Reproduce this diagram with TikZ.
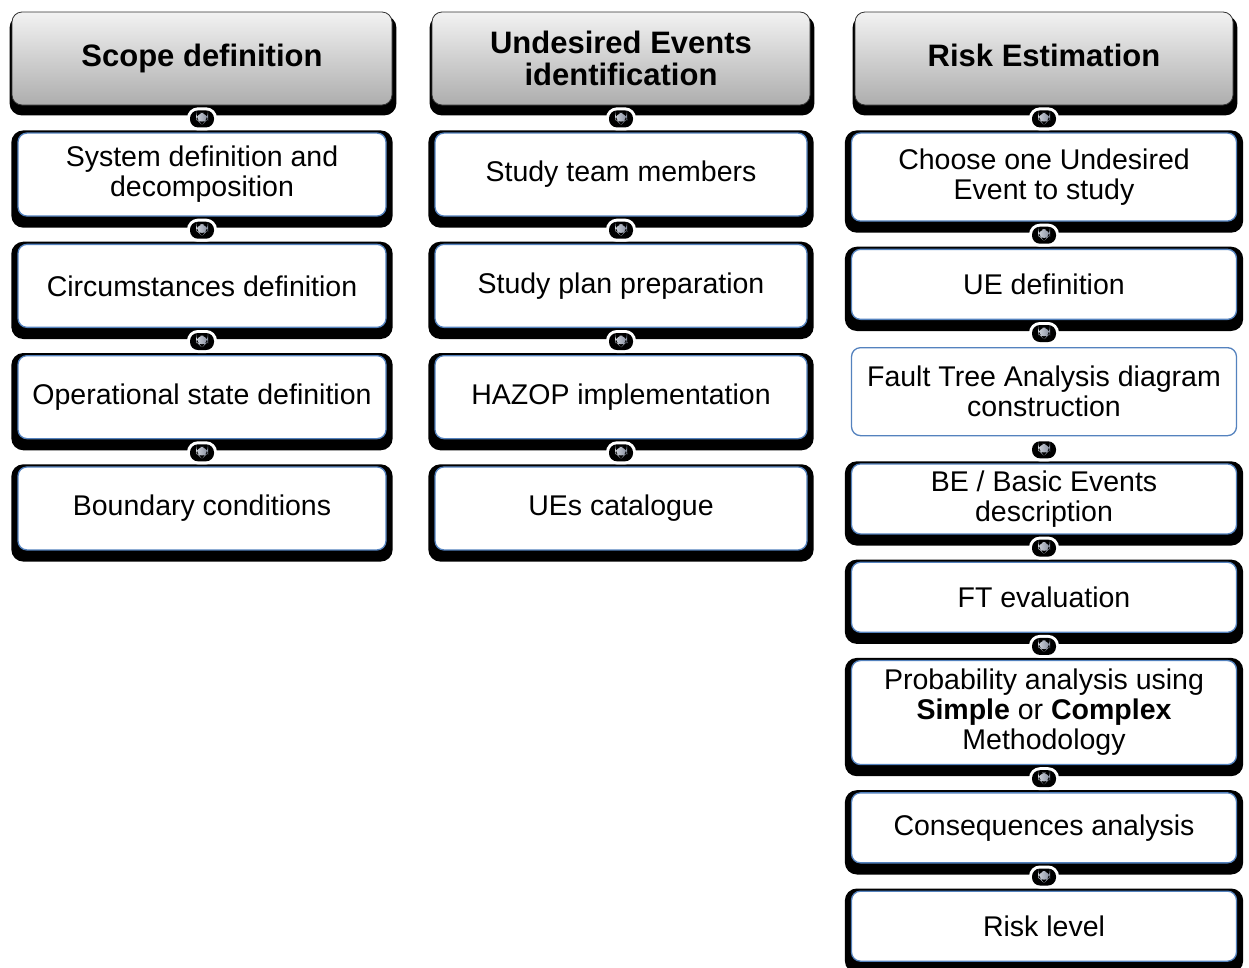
\documentclass[tikz,border=0pt]{standalone}
\usepackage{fontspec}
\setmainfont{Liberation Sans}
\usetikzlibrary{positioning}
\usetikzlibrary{backgrounds}

\definecolor{boxblue}{RGB}{84,130,190}
\definecolor{iconblue}{RGB}{140,155,185}

\tikzset{
  headbox/.style={draw=black!80, line width=0.8pt, rounded corners=10pt,
    top color=white!95!black, bottom color=black!32, minimum width=380pt,
    minimum height=93pt, align=center, inner sep=0pt,
    font=\fontsize{31}{32}\selectfont\bfseries},
  stepbox/.style={draw=boxblue, line width=1.3pt, rounded corners=9pt,
    fill=white, minimum height=83pt, align=center, inner sep=0pt,
    font=\fontsize{28.5}{30}\selectfont},
  flowicon/.style={fill=black, rounded corners=8pt,
    preaction={draw=white, line width=6pt},
    minimum width=24pt, minimum height=17pt, inner sep=0pt,
    path picture={
      \fill[left color=white!90!iconblue, right color=iconblue!70!black]
        ([xshift=-6pt,yshift=6pt]path picture bounding box.center)
        -- ++(12pt,0pt) -- ++(0pt,-6pt) -- ++(-6pt,-6pt) -- ++(-6pt,6pt) -- cycle;
    }},
}

\begin{document}
\begin{tikzpicture}[x=1pt, y=-1pt]
  \useasboundingbox (0,0) rectangle (1249,967);

  % headers
  \node[headbox] (scopeHead) at (202,58.5) {Scope definition};
  \node[headbox, minimum width=378pt] (ueHead) at (621,58.5) {Undesired Events\\identification};
  \node[headbox, minimum width=378pt] (riskHead) at (1044,58.5) {Risk Estimation\vphantom{p}};

  % scope definition
  \begin{scope}[stepbox/.append style={minimum width=368pt}, node distance=27pt]
    \node[stepbox, below=of scopeHead] (sysDef) {System definition and\\decomposition};
    \node[stepbox, below=of sysDef] (circDef) {Circumstances definition};
    \node[stepbox, below=of circDef] (opDef) {Operational state definition};
    \node[stepbox, below=of opDef] (boundCond) {Boundary conditions};
  \end{scope}

  % undesired events identification
  \begin{scope}[stepbox/.append style={minimum width=372pt}, node distance=27pt]
    \node[stepbox, below=of ueHead] (team) {Study team members};
    \node[stepbox, below=of team] (plan) {Study plan preparation};
    \node[stepbox, below=of plan] (hazop) {HAZOP implementation};
    \node[stepbox, below=of hazop] (catalogue) {UEs catalogue};
  \end{scope}

  % risk estimation
  \begin{scope}[stepbox/.append style={minimum width=385pt, minimum height=70pt}, node distance=27pt]
    \node[stepbox, minimum height=88pt, below=of riskHead] (chooseUE) {Choose one Undesired\\Event to study};
    \node[stepbox, below=of chooseUE] (ueDef) {UE definition};
    \node[stepbox, minimum height=88pt, below=of ueDef] (ftaDiag) {Fault Tree Analysis diagram\\construction};
    \node[stepbox, below=of ftaDiag] (basicEv) {BE / Basic Events\\description};
    \node[stepbox, below=of basicEv] (ftEval) {FT evaluation};
    \node[stepbox, minimum height=104pt, below=of ftEval] (probAn) {Probability analysis using\\\textbf{Simple} or \textbf{Complex}\\Methodology};
    \node[stepbox, below=of probAn] (consAn) {Consequences analysis};
    \node[stepbox, below=of consAn] (riskLevel) {Risk level};
  \end{scope}

  % black shadows
  \begin{scope}[on background layer]
    \foreach \n in {scopeHead, ueHead, riskHead}
      \fill[black, rounded corners=12pt] ([xshift=-2pt,yshift=-4pt]\n.north west) rectangle ([xshift=4pt,yshift=-10pt]\n.south east);
    \foreach \n in {sysDef, circDef, opDef, boundCond, team, plan, hazop, catalogue,
                    chooseUE, ueDef, basicEv, ftEval, probAn, consAn, riskLevel}
      \fill[black, rounded corners=12pt] ([xshift=-6pt,yshift=2pt]\n.north west) rectangle ([xshift=6pt,yshift=-11pt]\n.south east);
  \end{scope}

  % connectors
  \foreach \a/\b in {scopeHead/sysDef, sysDef/circDef, circDef/opDef, opDef/boundCond,
                     ueHead/team, team/plan, plan/hazop, hazop/catalogue,
                     riskHead/chooseUE, chooseUE/ueDef, ueDef/ftaDiag, ftaDiag/basicEv,
                     basicEv/ftEval, ftEval/probAn, probAn/consAn, consAn/riskLevel}
    \path (\a.south) -- node[flowicon] {} (\b.north);
\end{tikzpicture}
\end{document}
